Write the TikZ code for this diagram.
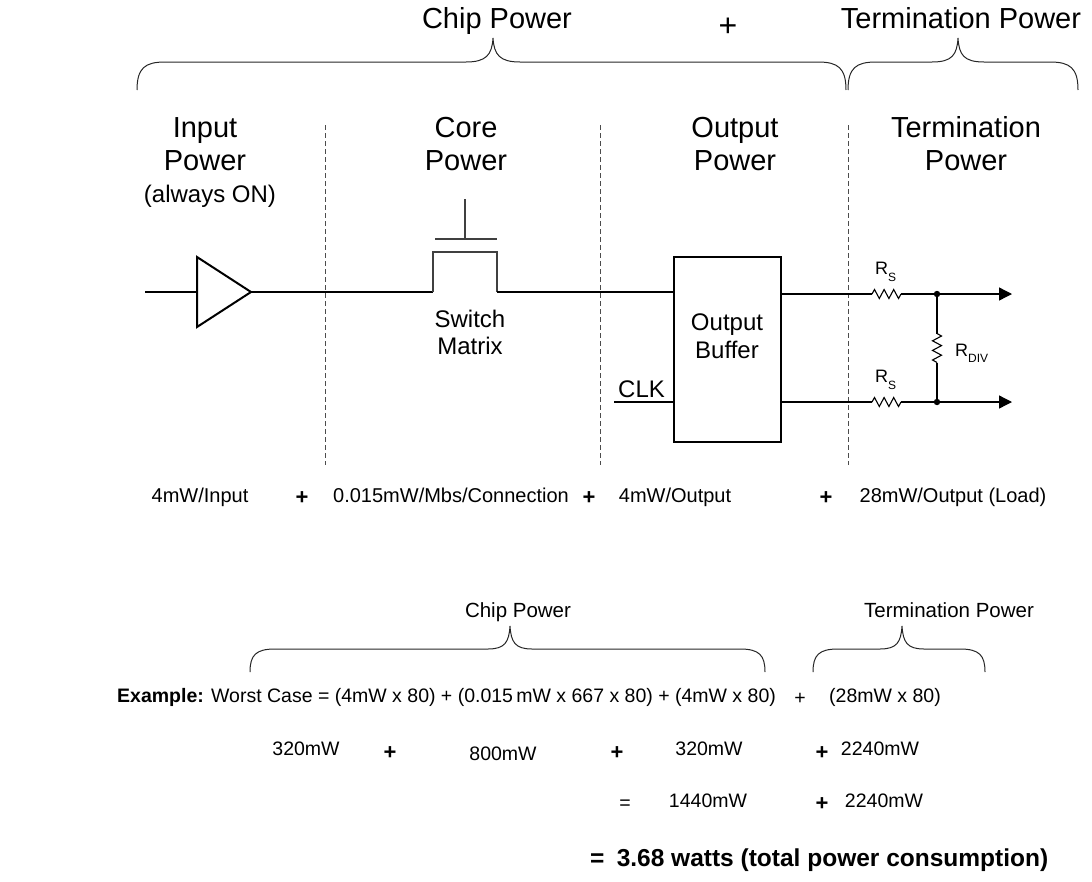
\documentclass[tikz,border=0pt]{standalone}
\usepackage{fontspec}
\setmainfont{Liberation Sans}
\usetikzlibrary{arrows.meta}
\begin{document}
\begin{tikzpicture}[x=1pt,y=-1pt,
  txt/.style={inner sep=0pt, anchor=base},
  head/.style={txt, font=\fontsize{29}{33}\selectfont},
  mid/.style={txt, font=\fontsize{24}{28}\selectfont},
  lbl/.style={txt, font=\fontsize{20.5}{24}\selectfont},
  rate/.style={txt, font=\fontsize{20}{24}\selectfont},
  ex/.style={txt, font=\fontsize{19.5}{23}\selectfont},
  plusb/.style={txt, font=\fontsize{22}{26}\selectfont\bfseries},
  rlab/.style={txt, anchor=base west, font=\fontsize{18}{20}\selectfont},
  brace/.style={line width=1pt, black!85},
  divider/.style={black!70, line width=1pt, dash pattern=on 5pt off 3pt},
  wire/.style={line width=1.3pt},
  swline/.style={line width=1.5pt, black!75},
  heavy/.style={line width=2pt},
  res/.style={line width=1.1pt},
  arr/.style={wire, -{Triangle[length=13pt,width=13pt]}},
  resistor/.pic={\draw[res] (-14.5,0) -- ++(2.5,-4.5) -- ++(4.8,9) -- ++(4.8,-9) -- ++(4.8,9) -- ++(4.8,-9) -- ++(4.8,9) -- ++(2.5,-4.5);}
]
\useasboundingbox (0,0) rectangle (1092,881);

% ---------- top labels and braces ----------
\node[head] (cp) at (497,28) {Chip Power};
\node[txt, font=\fontsize{32}{36}\selectfont] (topplus) at (728,36) {+};
\node[head] (tp) at (961,28) {Termination Power};

\draw[brace] (137,90) .. controls (137,68) and (145,62) .. (165,62) -- (466,62)
  .. controls (486,62) and (492,55) .. (493,38)
  .. controls (494,55) and (500,62) .. (520,62) -- (818,62)
  .. controls (838,62) and (846,68) .. (846,90);
\draw[brace] (848,90) .. controls (848,68) and (856,62) .. (876,62) -- (932,62)
  .. controls (952,62) and (957,55) .. (958,38)
  .. controls (959,55) and (964,62) .. (984,62) -- (1050,62)
  .. controls (1070,62) and (1078,68) .. (1078,90);

% ---------- dividers ----------
\draw[divider] (325,125) -- (325,465);
\draw[divider] (600,125) -- (600,465);
\draw[divider] (848,125) -- (848,465);

% ---------- section headings ----------
\node[head] (ip1) at (205,137) {Input};
\node[head] (ip2) at (205,170) {Power};
\node[mid]  (ip3) at (210,202) {(always ON)};
\node[head] (co1) at (466,137) {Core};
\node[head] (co2) at (466,170) {Power};
\node[head] (op1) at (735,137) {Output};
\node[head] (op2) at (735,170) {Power};
\node[head] (te1) at (966,137) {Termination};
\node[head] (te2) at (966,170) {Power};

% ---------- input buffer ----------
\coordinate (in) at (145,292);
\coordinate (triL) at (197,292);
\coordinate (triT) at (251,292);
\draw[heavy, line join=miter] (197,257) -- (triT) -- (197,327) -- cycle;
\draw[wire] (in) -- (triL);

% ---------- switch matrix ----------
\coordinate (swL) at (433,292);
\coordinate (swR) at (497,292);
\draw[wire] (triT) -- (swL);
\draw[swline] (swL) -- (433,252) -- (497,252) -- (swR);
\draw[swline] (435,239) -- (497,239);
\draw[swline] (465,239) -- (465,199);
\node[mid] (sw1) at (470,327) {Switch};
\node[mid] (sw2) at (470,354) {Matrix};

% ---------- output buffer ----------
\node[draw, heavy, minimum width=107pt, minimum height=185pt, inner sep=0pt] (buf) at (727.5,349.5) {};
\node[mid] (ob1) at (727,330) {Output};
\node[mid] (ob2) at (727,358) {Buffer};
\draw[wire] (swR) -- (swR -| buf.west);
\coordinate (clk) at (614,402);
\draw[wire] (clk) -- (clk -| buf.west);
\node[mid, anchor=base west] (clktxt) at (618,397) {CLK};

% ---------- termination ----------
\coordinate (o1) at (781,294);
\coordinate (o2) at (781,402);
\coordinate (r1l) at (872,294);
\coordinate (r1r) at (901,294);
\coordinate (r2l) at (872,402);
\coordinate (r2r) at (901,402);
\coordinate (j1) at (937,294);
\coordinate (j2) at (937,402);
\coordinate (a1) at (1012,294);
\coordinate (a2) at (1012,402);
\coordinate (rdt) at (937,333.5);
\coordinate (rdb) at (937,362.5);

\draw[wire] (o1) -- (r1l);
\draw[wire] (o2) -- (r2l);
\pic at (886.5,294) {resistor};
\pic at (886.5,402) {resistor};
\draw[arr] (r1r) -- (a1);
\draw[arr] (r2r) -- (a2);
\draw[wire] (j1) -- (rdt);
\draw[wire] (rdb) -- (j2);
\pic[rotate=90] at (937,348) {resistor};
\fill (j1) circle (3.2pt);
\fill (j2) circle (3.2pt);

\node[rlab] (rs1) at (875,274) {R\raisebox{-7pt}{\fontsize{12}{14}\selectfont S}};
\node[rlab] (rs2) at (875,382) {R\raisebox{-7pt}{\fontsize{12}{14}\selectfont S}};
\node[rlab] (rdiv) at (955,356) {R\raisebox{-6pt}{\fontsize{12}{14}\selectfont DIV}};

% ---------- per-unit rates ----------
\node[rate] (r1) at (200,502) {4mW/Input};
\node[plusb] (p1) at (302,504) {+};
\node[rate] (r2) at (451,502) {0.015mW/Mbs/Connection};
\node[plusb] (p2) at (589,504) {+};
\node[rate] (r3) at (675,502) {4mW/Output};
\node[plusb] (p3) at (826,504) {+};
\node[rate] (r4) at (953,502) {28mW/Output (Load)};

% ---------- example ----------
\node[lbl] (cp2l) at (518,617) {Chip Power};
\node[lbl] (tp2l) at (949,617) {Termination Power};
\draw[brace] (250,672) .. controls (250,655) and (256,649) .. (275,649) -- (488,649)
  .. controls (505,649) and (509,642) .. (510,626)
  .. controls (511,642) and (515,649) .. (532,649) -- (740,649)
  .. controls (759,649) and (765,655) .. (765,672);
\draw[brace] (813,672) .. controls (813,655) and (819,649) .. (838,649) -- (880,649)
  .. controls (897,649) and (901,642) .. (902,626)
  .. controls (903,642) and (907,649) .. (924,649) -- (960,649)
  .. controls (979,649) and (985,655) .. (985,672);

\node[ex, anchor=base west] (exl) at (117,702) {\textbf{Example:} Worst Case = (4mW x 80) + (0.015\,mW x 667 x 80) + (4mW x 80)};
\node[ex] (exp) at (800,704) {+};
\node[ex] (ext) at (885,702) {(28mW x 80)};

\node[ex] (v1) at (306,755) {320mW};
\node[plusb] (q1) at (390,759) {+};
\node[ex] (v2) at (503,760) {800mW};
\node[plusb] (q2) at (617,759) {+};
\node[ex] (v3) at (709,755) {320mW};
\node[plusb] (q3) at (822,759) {+};
\node[ex] (v4) at (880,755) {2240mW};

\node[ex] (eq1) at (625,809) {=};
\node[ex] (s1) at (708,807) {1440mW};
\node[plusb] (q4) at (822,810) {+};
\node[ex] (s2) at (884,807) {2240mW};

\node[txt, anchor=base west, font=\fontsize{24.5}{28}\selectfont\bfseries] (tot) at (590,866) {=\hspace{0.5em}3.68 watts (total power consumption)};
\end{tikzpicture}
\end{document}
